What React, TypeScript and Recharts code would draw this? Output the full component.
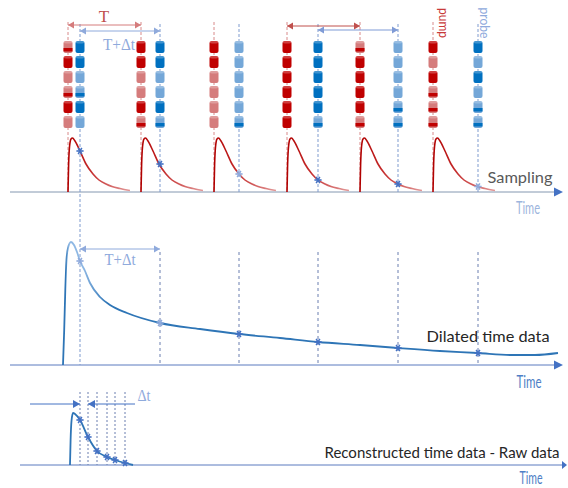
import React from 'react';
import {
  ComposedChart,
  Line,
  Scatter,
  XAxis,
  YAxis,
  ReferenceLine,
  ReferenceDot,
} from 'recharts';

// everything lives in one time / level space: x = time, y = level (top down)
const pumpTimes = [68, 141, 214, 287, 360, 433];
const probeTimes = [80, 160, 239, 318, 398, 478];
const pulseLevels = [47, 62, 77, 92, 107, 122];

// 0 = faint pulse, 1 = strong pulse, 2 = faint with strong band
const pumpTones = [
  [2, 1, 0, 2, 1, 0],
  [1, 1, 0, 0, 1, 2],
  [1, 1, 0, 0, 0, 0],
  [1, 1, 1, 1, 1, 1],
  [2, 1, 1, 1, 1, 2],
  [1, 0, 1, 2, 2, 2],
];
const probeTones = [
  [1, 1, 0, 2, 1, 0],
  [1, 1, 0, 0, 1, 2],
  [0, 0, 0, 0, 0, 2],
  [1, 1, 1, 1, 1, 2],
  [0, 0, 0, 0, 2, 2],
  [1, 0, 1, 0, 2, 2],
];

// response after one pump: [delay, level]
const responseDelay = [0, 0.6, 1.5, 3, 4.5, 7, 12, 18, 25, 31, 38, 44, 52, 62];
const responseLevel = [192, 165, 147, 139, 138, 141, 151, 164, 174, 180, 184, 186.5, 188.5, 190.5];
const sampledLevels = [151, 164, 174, 180, 184, 186.5];
const sampledStrong = [1, 1, 0, 1, 1, 0];

const dilatedTime = [63, 64.2, 65.3, 66.5, 68, 71, 74, 77, 80, 85, 90, 100, 110, 127, 160, 200, 239, 280, 318, 360, 398, 440, 478, 510, 535, 558];
const dilatedLevel = [365, 330, 290, 260, 248, 242, 245, 252, 261, 271, 283, 297, 305, 313, 323, 329, 334, 338, 342, 345, 348, 351, 353, 355, 355, 353];
const dilatedSampleLevel = [261, 323, 334, 342, 348, 353];
const dilatedSampleStrong = [0, 0, 1, 1, 1, 1];

const rawTime = [70, 70.6, 71.5, 73, 75, 80, 88, 97, 107, 115, 125, 133];
const rawLevel = [465, 440, 421, 413, 414, 420, 437, 451, 457, 460, 463, 465];
const rawSampleTime = [80, 88, 97, 107, 115, 125];
const rawSampleLevel = [420, 437, 451, 457, 460, 463];

const notes = [
  { x: 104, y: 16, text: 'T', color: '#c0504d', size: 17, serif: true },
  { x: 119, y: 44, text: 'T+Δt', color: '#8faadc', size: 16, serif: true, w: 32 },
  { x: 444, y: 23, text: 'pump', color: '#c83a3a', size: 13, rotate: 90, w: 30 },
  { x: 485, y: 23, text: 'probe', color: '#8faadc', size: 13, rotate: 90, w: 31 },
  { x: 520, y: 176, text: 'Sampling', color: '#595959', size: 16, w: 65 },
  { x: 528, y: 207, text: 'Time', color: '#9db5dd', size: 18, w: 24 },
  { x: 120, y: 259, text: 'T+Δt', color: '#8faadc', size: 16, serif: true, w: 31 },
  { x: 488, y: 336, text: 'Dilated time data', color: '#262626', size: 15, w: 123 },
  { x: 529, y: 381, text: 'Time', color: '#4f7fc6', size: 18, w: 25 },
  { x: 144, y: 395, text: 'Δt', color: '#8faadc', size: 16, serif: true, w: 13 },
  { x: 442, y: 452, text: 'Reconstructed time data - Raw data', color: '#262626', size: 15, w: 235 },
  { x: 531, y: 477, text: 'Time', color: '#4f7fc6', size: 17, w: 23 },
];

const DARK_RED = '#c00000';
const LIGHT_RED = '#d57c7c';
const DARK_BLUE = '#0070c0';
const LIGHT_BLUE = '#74a7d8';

const pumpPulses = pumpTimes.flatMap((t, i) =>
  pulseLevels.map((y, j) => ({ x: t, y, tone: pumpTones[i][j] }))
);
const probePulses = probeTimes.flatMap((t, i) =>
  pulseLevels.map((y, j) => ({ x: t, y, tone: probeTones[i][j] }))
);
const samples = probeTimes.map((x, i) => ({ x, y: sampledLevels[i], strong: sampledStrong[i] }));
const dilated = dilatedTime.map((x, i) => ({ x, y: dilatedLevel[i] }));
const dilatedSamples = probeTimes.map((x, i) => ({ x, y: dilatedSampleLevel[i], strong: dilatedSampleStrong[i] }));
const raw = rawTime.map((x, i) => ({ x, y: rawLevel[i] }));
const rawSamples = rawSampleTime.map((x, i) => ({ x, y: rawSampleLevel[i], strong: 1 }));

const makePulse = (dark: string, light: string) => (props: any) => {
  const { cx, cy, payload } = props;
  const tone = payload.tone;
  const body = tone === 1 ? dark : light;
  return (
    <g>
      <rect x={cx - 4.5} y={cy - 6} width={9} height={12} rx={2} fill={body} />
      <ellipse cx={cx} cy={cy - 5} rx={4.5} ry={1.6} fill="#ffffff" opacity={0.25} />
      {tone === 2 && <rect x={cx - 4.5} y={cy + 1} width={9} height={3.5} fill={dark} />}
    </g>
  );
};

const Star = (props: any) => {
  const { cx, cy, payload } = props;
  const c = payload && payload.strong ? '#4472c4' : '#8faadc';
  const r = 3.6;
  return (
    <g stroke={c} strokeWidth={1.6}>
      <line x1={cx - r} y1={cy} x2={cx + r} y2={cy} />
      <line x1={cx - r / 2} y1={cy - r * 0.87} x2={cx + r / 2} y2={cy + r * 0.87} />
      <line x1={cx + r / 2} y1={cy - r * 0.87} x2={cx - r / 2} y2={cy + r * 0.87} />
    </g>
  );
};

const head = (dir: number, color: string, len = 6, half = 3.5) => (props: any) => {
  const { cx, cy } = props;
  const bx = cx - dir * len;
  return <polygon points={`${cx},${cy} ${bx},${cy - half} ${bx},${cy + half}`} fill={color} />;
};

const Note = (n: any) => (props: any) => {
  const { cx, cy } = props;
  return (
    <text
      x={cx}
      y={cy}
      textAnchor="middle"
      dominantBaseline="central"
      fill={n.color}
      fontSize={n.size}
      fontFamily={n.serif ? '"Liberation Serif", "DejaVu Serif", serif' : 'Lato, "Noto Sans", sans-serif'}
      textLength={n.w}
      lengthAdjust={n.w ? 'spacingAndGlyphs' : undefined}
      transform={n.rotate ? `rotate(${n.rotate} ${cx} ${cy})` : undefined}
    >
      {n.text}
    </text>
  );
};

const seg = (x1: number, y1: number, x2: number, y2: number, stroke: string, dash?: string, width = 1) => (
  <ReferenceLine
    key={`${x1}-${y1}-${x2}-${y2}-${stroke}`}
    segment={[{ x: x1, y: y1 }, { x: x2, y: y2 }]}
    stroke={stroke}
    strokeWidth={width}
    strokeDasharray={dash}
    ifOverflow="visible"
  />
);

const arrow = (x1: number, x2: number, y: number, color: string) => [
  seg(x1, y, x2, y, color),
  <ReferenceDot key={`a1-${x1}-${y}`} x={x1} y={y} r={0} shape={head(-1, color)} ifOverflow="visible" />,
  <ReferenceDot key={`a2-${x2}-${y}`} x={x2} y={y} r={0} shape={head(1, color)} ifOverflow="visible" />,
];

export default function App() {
  return (
    <div style={{ position: 'absolute', left: 0, top: 0, width: 568, height: 488, background: '#fff' }}>
      <ComposedChart width={568} height={488} margin={{ top: 0, right: 0, bottom: 0, left: 0 }}>
        <defs>
          <linearGradient id="redFade" x1="0" y1="0" x2="1" y2="0">
            <stop offset="0%" stopColor="#b00000" />
            <stop offset="35%" stopColor="#c42a2a" />
            <stop offset="100%" stopColor="#e29a9a" />
          </linearGradient>
          <linearGradient id="blueFade" x1="0" y1="0" x2="1" y2="0">
            <stop offset="0%" stopColor="#2e75b6" />
            <stop offset="0.5%" stopColor="#2e75b6" />
            <stop offset="1.2%" stopColor="#8fb8e4" />
            <stop offset="4%" stopColor="#8fb8e4" />
            <stop offset="9%" stopColor="#2e75b6" />
            <stop offset="100%" stopColor="#2e75b6" />
          </linearGradient>
        </defs>
        <XAxis type="number" dataKey="x" domain={[0, 568]} hide allowDataOverflow />
        <YAxis type="number" domain={[0, 488]} reversed hide allowDataOverflow />

        {/* time axes */}
        {seg(10, 192, 556, 192, '#8497b0')}
        {seg(10, 365, 556, 365, '#5b7bbf')}
        {seg(20, 465, 562, 465, '#5b7bbf')}
        <ReferenceDot x={563} y={192} r={0} shape={head(1, '#4472c4', 9, 4.5)} ifOverflow="visible" />
        <ReferenceDot x={563} y={365} r={0} shape={head(1, '#4472c4', 9, 4.5)} ifOverflow="visible" />
        <ReferenceDot x={567} y={465} r={0} shape={head(1, '#4472c4', 5, 4)} ifOverflow="visible" />

        {/* guides */}
        {pumpTimes.map((t) => seg(t, 22, t, 192, '#d88a8a', '3 2'))}
        {probeTimes.map((t, i) => seg(t, 24, t, i === 0 ? 365 : 192, '#7f9bcf', '3 2'))}
        {probeTimes.slice(1).map((t) => seg(t, 252, t, 365, '#6a7fb0', '3 3'))}
        {rawSampleTime.map((t) => seg(t, 392, t, 465, '#6a7fb0', '2 2'))}

        {/* interval arrows */}
        {arrow(68, 141, 25, '#d57c7c')}
        {arrow(80, 160, 31, '#8faadc')}
        {arrow(287, 360, 26, '#c0504d')}
        {arrow(318, 398, 30, '#7f9bd6')}
        {arrow(80, 160, 249, '#8faadc')}
        {seg(30, 404, 80, 404, '#4472c4')}
        <ReferenceDot x={80} y={404} r={0} shape={head(1, '#4472c4', 7, 4)} ifOverflow="visible" />
        {seg(88, 404, 135, 404, '#4472c4')}
        <ReferenceDot x={88} y={404} r={0} shape={head(-1, '#4472c4', 7, 4)} ifOverflow="visible" />

        {/* pulses */}
        <Scatter data={pumpPulses} dataKey="y" shape={makePulse(DARK_RED, LIGHT_RED)} isAnimationActive={false} />
        <Scatter data={probePulses} dataKey="y" shape={makePulse(DARK_BLUE, LIGHT_BLUE)} isAnimationActive={false} />

        {/* responses */}
        {pumpTimes.map((t, i) => (
          <Line
            key={`resp-${i}`}
            data={responseDelay.map((d, k) => ({ x: t + d, y: responseLevel[k] }))}
            dataKey="y"
            type="monotone"
            stroke="url(#redFade)"
            strokeWidth={1.6}
            dot={false}
            activeDot={false}
            isAnimationActive={false}
          />
        ))}
        <Line data={dilated} dataKey="y" type="monotone" stroke="url(#blueFade)" strokeWidth={1.8} dot={false} activeDot={false} isAnimationActive={false} />
        <Line data={raw} dataKey="y" type="monotone" stroke="#2e75b6" strokeWidth={1.8} dot={false} activeDot={false} isAnimationActive={false} />

        <Scatter data={samples} dataKey="y" shape={Star} isAnimationActive={false} />
        <Scatter data={dilatedSamples} dataKey="y" shape={Star} isAnimationActive={false} />
        <Scatter data={rawSamples} dataKey="y" shape={Star} isAnimationActive={false} />

        {notes.map((n, i) => (
          <ReferenceDot key={`note-${i}`} x={n.x} y={n.y} r={0} shape={Note(n)} ifOverflow="visible" />
        ))}
      </ComposedChart>
    </div>
  );
}
